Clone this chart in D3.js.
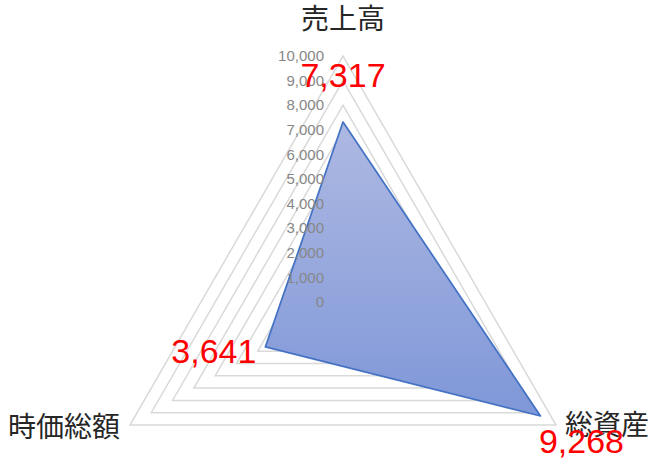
<!DOCTYPE html>
<html>
<head>
<meta charset="utf-8">
<script src="https://cdn.jsdelivr.net/npm/d3@7"></script>
<style>
  body { margin: 0; background: #fff; }
  svg { display: block; }
</style>
</head>
<body>
<div class="radar"></div>
<script>
// chart data
var categories = ["売上高", "総資産", "時価総額"];
var values = [7317, 9268, 3641];
var tickValues = [0, 1000, 2000, 3000, 4000, 5000, 6000, 7000, 8000, 9000, 10000];

var width = 663, height = 469;
var cx = 343, cy = 302, radius = 246;

var svg = d3.select(".radar")
            .append("svg")
            .attr("width", width)
            .attr("height", height);

var r = d3.scaleLinear().domain([0, 10000]).range([0, radius]);
var angle = d3.scaleBand().domain(categories).range([0, 2 * Math.PI]);
var fmt = d3.format(",");

function pt(cat, v) {
    var a = angle(cat);
    return [cx + r(v) * Math.sin(a), cy - r(v) * Math.cos(a)];
}

var defs = svg.append("defs");
var grad = defs.append("linearGradient")
            .attr("id", "fillGrad")
            .attr("x1", 0).attr("y1", 0)
            .attr("x2", 0).attr("y2", 1);
grad.append("stop").attr("offset", "0%").attr("stop-color", "#aeb9e2");
grad.append("stop").attr("offset", "100%").attr("stop-color", "#7f97d8");

// grid triangles
svg.selectAll("polygon.grid")
    .data(tickValues.filter(function(d) { return d > 0; }))
  .enter()
    .append("polygon")
    .attr("class", "grid")
    .attr("points", function(v) {
        return categories.map(function(c) { return pt(c, v).join(","); }).join(" ");
    })
    .style("fill", "none")
    .style("stroke", "#d9d9d9")
    .style("stroke-width", 1.5);

// data area
svg.append("polygon")
    .attr("points", categories.map(function(c, i) { return pt(c, values[i]).join(","); }).join(" "))
    .style("fill", "url(#fillGrad)")
    .style("stroke", "#4472c4")
    .style("stroke-width", 1.75)
    .style("stroke-linejoin", "round");

// tick labels (drawn over the area, like the original)
svg.selectAll("text.tick")
    .data(tickValues)
  .enter()
    .append("text")
    .attr("class", "tick")
    .attr("x", 324)
    .attr("y", function(d) { return cy - r(d); })
    .attr("dy", "0.35em")
    .attr("text-anchor", "end")
    .style("font-family", "'Liberation Sans', Arial, sans-serif")
    .style("font-size", "15px")
    .style("fill", "#878787")
    .text(function(d) { return fmt(d); });

// category labels
var catPos = [
    { dx: 0, dy: -283, anchor: "middle" },
    { dx: 222, dy: 123, anchor: "start" },
    { dx: -223, dy: 125, anchor: "end" }
];
svg.selectAll("text.cat")
    .data(categories)
  .enter()
    .append("text")
    .attr("class", "cat")
    .attr("x", function(d, i) { return cx + catPos[i].dx; })
    .attr("y", function(d, i) { return cy + catPos[i].dy; })
    .attr("dy", "0.35em")
    .attr("text-anchor", function(d, i) { return catPos[i].anchor; })
    .style("font-family", "'Noto Sans CJK JP', sans-serif")
    .style("font-size", "28px")
    .style("fill", "#262626")
    .text(function(d) { return d; });

// value labels
var valOff = [
    { dx: 0, dy: -35, anchor: "middle" },
    { dx: 41, dy: 37, anchor: "middle" },
    { dx: -9, dy: 16, anchor: "end" }
];
svg.selectAll("text.val")
    .data(values)
  .enter()
    .append("text")
    .attr("class", "val")
    .attr("x", function(d, i) { return pt(categories[i], d)[0] + valOff[i].dx; })
    .attr("y", function(d, i) { return pt(categories[i], d)[1] + valOff[i].dy; })
    .attr("text-anchor", function(d, i) { return valOff[i].anchor; })
    .style("font-family", "'Liberation Sans', Arial, sans-serif")
    .style("font-size", "34px")
    .style("fill", "#ff0000")
    .text(function(d) { return fmt(d); });
</script>
</body>
</html>
